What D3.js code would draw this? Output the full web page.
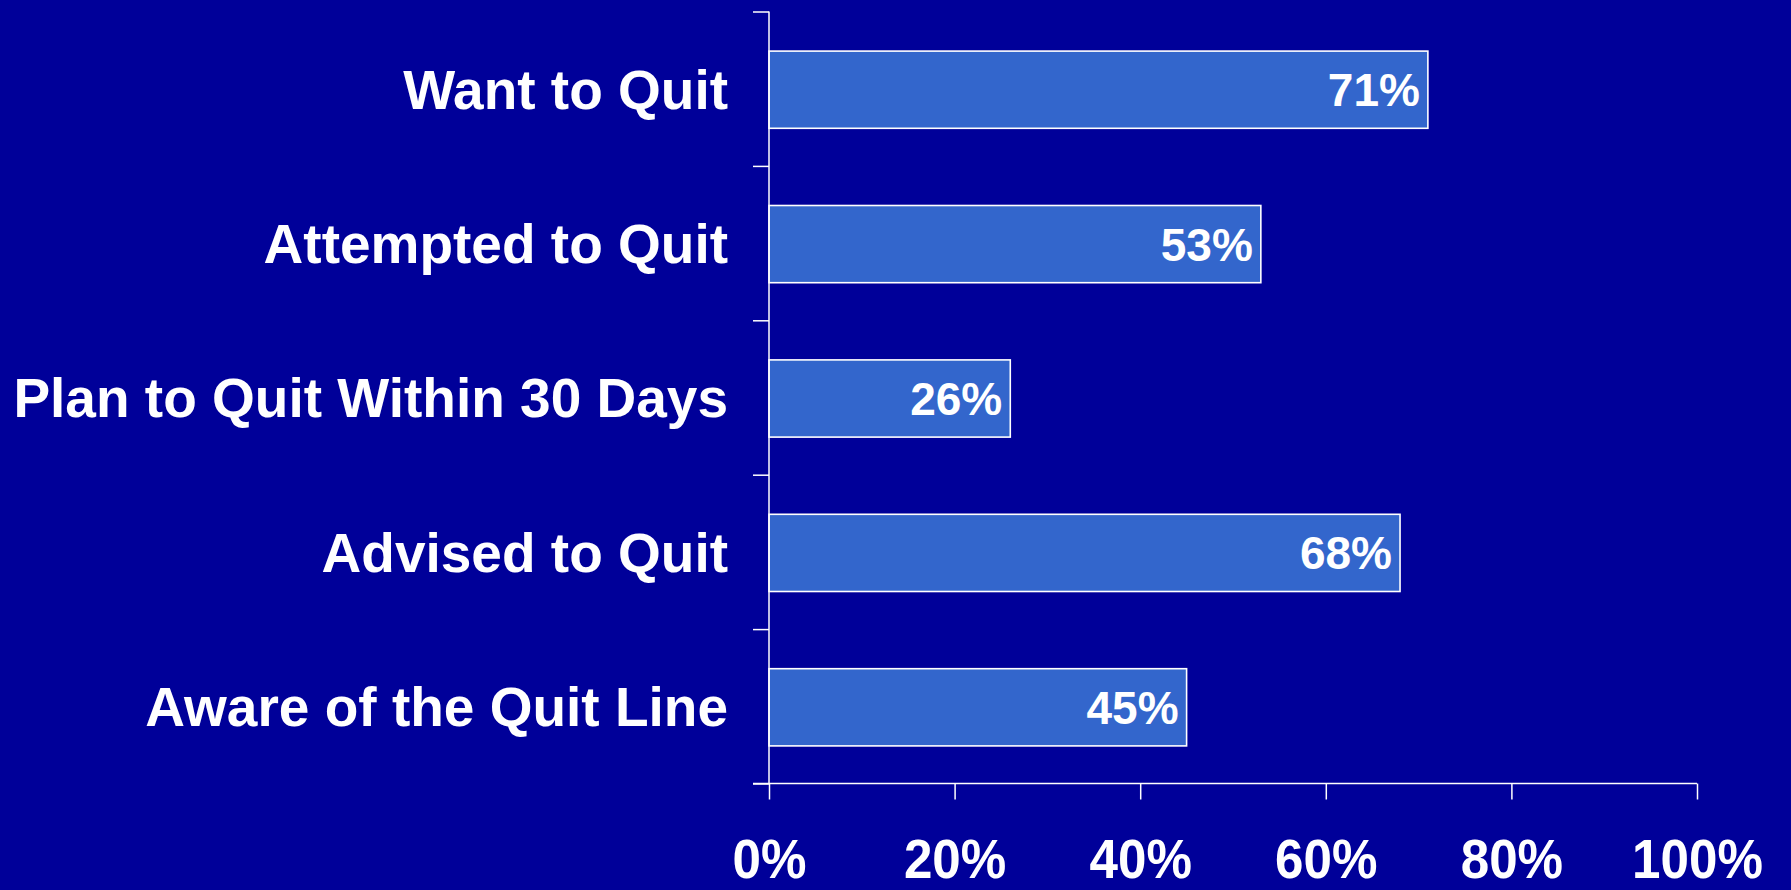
<!DOCTYPE html>
<html>
<head>
<meta charset="utf-8">
<script src="https://cdn.jsdelivr.net/npm/d3@7"></script>
<style>
  html, body { margin: 0; padding: 0; background: #000099; }
  svg { display: block; }
  text { font-family: "Liberation Sans", Arial, Helvetica, sans-serif; font-weight: bold; fill: #ffffff; }
</style>
</head>
<body>
<script>
// chart data
var categories = ['Want to Quit', 'Attempted to Quit', 'Plan to Quit Within 30 Days', 'Advised to Quit', 'Aware of the Quit Line'];
var values = [71, 53, 26, 68, 45];
var xTicks = [0, 20, 40, 60, 80, 100];

var width = 1791;
var height = 890;

const margin = {
  top: 11.5,
  right: 94,
  bottom: 106.5,
  left: 769
};

var svg = d3.select('body').append('svg')
  .attr('width', width)
  .attr('height', height);

svg.append('rect')
  .attr('width', width)
  .attr('height', height)
  .attr('fill', '#000099');

var x = d3.scaleLinear()
  .domain([0, 100])
  .range([margin.left, width - margin.right]);

var y = d3.scaleBand()
  .domain(categories)
  .range([margin.top, height - margin.bottom])
  .paddingInner(0.5)
  .paddingOuter(0.25);

// band edges for the y axis ticks
var yEdge = d3.scaleLinear()
  .domain([0, categories.length])
  .range([margin.top, height - margin.bottom]);

// bars
svg.selectAll('rect.bar')
  .data(values)
  .enter()
  .append('rect')
  .attr('class', 'bar')
  .attr('x', x(0))
  .attr('y', (d, i) => y(categories[i]) + 1)
  .attr('width', d => x(d) - x(0))
  .attr('height', y.bandwidth())
  .attr('fill', '#3366cc')
  .attr('stroke', '#ffffff')
  .attr('stroke-width', 1.6);

// y axis
var yAxis = d3.axisLeft(yEdge)
  .tickValues(d3.range(categories.length + 1))
  .tickSize(16)
  .tickFormat('');

var gy = svg.append('g')
  .attr('transform', `translate(${x(0)}, 0)`)
  .call(yAxis);
gy.select('.domain').remove();
gy.selectAll('.tick line').attr('stroke', '#ffffff').attr('stroke-width', 1.5);
gy.append('line')
  .attr('x1', 0).attr('x2', 0)
  .attr('y1', margin.top).attr('y2', height - margin.bottom)
  .attr('stroke', '#ffffff')
  .attr('stroke-width', 1.5);

// x axis
var xAxis = d3.axisBottom(x)
  .tickValues(xTicks)
  .tickSize(16)
  .tickPadding(39)
  .tickFormat(d => d + '%');

var gx = svg.append('g')
  .attr('transform', `translate(0, ${height - margin.bottom})`)
  .call(xAxis);
gx.select('.domain').remove();
gx.selectAll('.tick line').attr('stroke', '#ffffff').attr('stroke-width', 1.5);
gx.append('line')
  .attr('x1', x(0) - 16).attr('x2', x(100))
  .attr('y1', 0).attr('y2', 0)
  .attr('stroke', '#ffffff')
  .attr('stroke-width', 1.5);
gx.selectAll('.tick text')
  .attr('fill', '#ffffff')
  .style('font-family', '"Liberation Sans", Arial, sans-serif')
  .style('font-weight', 'bold')
  .style('font-size', '55px')
  .each(function() {
    var w = this.getComputedTextLength();
    d3.select(this).attr('textLength', w * 0.93).attr('lengthAdjust', 'spacingAndGlyphs');
  });

// category labels
svg.selectAll('text.label')
  .data(categories)
  .enter()
  .append('text')
  .attr('class', 'label')
  .attr('x', x(0) - 41)
  .attr('y', d => y(d) + y.bandwidth() / 2)
  .attr('dy', '0.36em')
  .style('text-anchor', 'end')
  .style('font-size', '55px')
  .text(d => d);

// value labels
svg.selectAll('text.valueLabel')
  .data(values)
  .enter()
  .append('text')
  .attr('class', 'valueLabel')
  .attr('x', d => x(d) - 8)
  .attr('y', (d, i) => y(categories[i]) + y.bandwidth() / 2 + 1)
  .attr('dy', '0.36em')
  .style('text-anchor', 'end')
  .style('font-size', '46px')
  .text(d => d + '%');
</script>
</body>
</html>
